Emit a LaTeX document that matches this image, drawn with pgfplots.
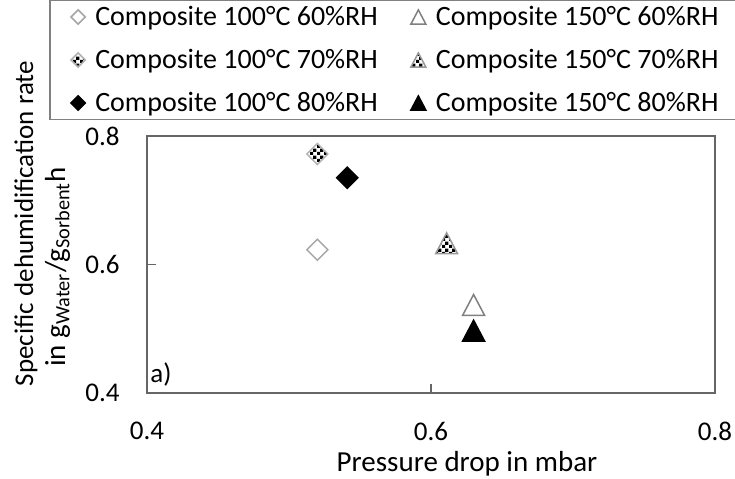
\documentclass[border=0pt]{standalone}
\usepackage{pgfplots}
\pgfplotsset{compat=1.18}
\usepackage{fontspec}
\setmainfont{Carlito}
\usetikzlibrary{patterns}

% fine checkerboard used by the 70%RH markers
\pgfdeclarepatternformonly{chk}{\pgfpointorigin}{\pgfqpoint{3.3bp}{3.3bp}}{\pgfqpoint{3.3bp}{3.3bp}}{%
  \pgfpathrectangle{\pgfpointorigin}{\pgfqpoint{1.65bp}{1.65bp}}%
  \pgfpathrectangle{\pgfqpoint{1.65bp}{1.65bp}}{\pgfqpoint{1.65bp}{1.65bp}}%
  \pgfusepath{fill}}

% marker outlines: diamond = square on its tip, triangle centred on its box
\def\dpath{\pgfpathmoveto{\pgfqpoint{0pt}{\pgfplotmarksize}}%
  \pgfpathlineto{\pgfqpoint{\pgfplotmarksize}{0pt}}%
  \pgfpathlineto{\pgfqpoint{0pt}{-\pgfplotmarksize}}%
  \pgfpathlineto{\pgfqpoint{-\pgfplotmarksize}{0pt}}%
  \pgfpathclose}
\def\tpath{\pgfpathmoveto{\pgfqpoint{0pt}{.95\pgfplotmarksize}}%
  \pgfpathlineto{\pgfqpoint{\pgfplotmarksize}{-.95\pgfplotmarksize}}%
  \pgfpathlineto{\pgfqpoint{-\pgfplotmarksize}{-.95\pgfplotmarksize}}%
  \pgfpathclose}
\pgfdeclareplotmark{dia}{\dpath\pgfusepathqfillstroke}
\pgfdeclareplotmark{tri}{\tpath\pgfusepathqfillstroke}
\pgfdeclareplotmark{chkdia}{%
  \begin{pgfscope}\pgfsetfillcolor{white}\dpath\pgfusepathqfill
  \pgfsetfillpattern{chk}{black}\dpath\pgfusepathqfill\end{pgfscope}%
  \dpath\pgfusepathqstroke}
\pgfdeclareplotmark{chktri}{%
  \begin{pgfscope}\pgfsetfillcolor{white}\tpath\pgfusepathqfill
  \pgfsetfillpattern{chk}{black}\tpath\pgfusepathqfill\end{pgfscope}%
  \tpath\pgfusepathqstroke}

\begin{document}
\begin{tikzpicture}[font=\fontsize{13.5bp}{16bp}\selectfont]
\path[use as bounding box] (0,0) rectangle (367.5bp,239.5bp);
\begin{axis}[
  pt/.style={only marks, line width=0.75bp,
    legend image code/.code={\draw[##1, every mark/.append style={scale=0.68}] plot coordinates {(0bp,0bp)};}},
  scale only axis, width=284bp, height=128.5bp,
  at={(73.5bp,43bp)}, anchor=south west,
  xmin=0.4, xmax=0.8, ymin=0.4, ymax=0.8,
  xtick={0.4,0.6,0.8}, ytick={0.4,0.6,0.8},
  tick align=inside, tick pos=left, major tick length=4.5bp,
  axis line style={draw=black!60, line width=0.75bp},
  tick style={draw=black!60, line width=0.75bp},
  /pgf/number format/assume math mode=true,
  xticklabel style={inner sep=0pt, anchor=north, yshift=-14.5bp},
  yticklabel style={inner sep=0pt, anchor=east, xshift=-13.5bp},
  clip=false,
  legend columns=2, legend cell align=left,
  legend style={at={(axis description cs:-0.1708,1.5272)}, anchor=north west,
    draw=black!50, line width=0.75bp, inner xsep=10.5bp, inner ysep=2bp,
    outer sep=0pt, row sep=9bp,
    nodes={inner sep=0pt, text height=10.5bp, text depth=2bp,
      font=\fontsize{14bp}{17bp}\selectfont},
    /tikz/every odd column/.append style={column sep=5bp},
    /tikz/every even column/.append style={column sep=16.5bp}},
]
\addplot[pt, mark=dia, mark size=5.25bp, mark options={draw=black!35, fill=white}]
  coordinates {(0.520,0.623)};
\addlegendentry{Composite 100°C 60\%RH}
\addplot[pt, mark=tri, mark size=5.5bp, mark options={draw=black!50, fill=white}]
  coordinates {(0.630,0.537)};
\addlegendentry{Composite 150°C 60\%RH}
\addplot[pt, mark=chkdia, mark size=5.25bp, mark options={draw=black!30}]
  coordinates {(0.520,0.772)};
\addlegendentry{Composite 100°C 70\%RH}
\addplot[pt, mark=chktri, mark size=5.5bp, mark options={draw=black!40}]
  coordinates {(0.611,0.633)};
\addlegendentry{Composite 150°C 70\%RH}
\addplot[pt, mark=dia, mark size=5.25bp, mark options={draw=black, fill=black}]
  coordinates {(0.541,0.735)};
\addlegendentry{Composite 100°C 80\%RH}
\addplot[pt, mark=tri, mark size=5.5bp, mark options={draw=black, fill=black}]
  coordinates {(0.630,0.497)};
\addlegendentry{Composite 150°C 80\%RH}
\end{axis}
\node[anchor=base, inner sep=0pt, font=\fontsize{14.5bp}{17bp}\selectfont] at (233.5bp,4bp) {Pressure drop in mbar};
\node[rotate=90, anchor=base, inner sep=0pt] at (16.5bp,127.75bp) {Specific dehumidification rate};
\node[rotate=90, anchor=base, inner sep=0pt, font=\fontsize{14.5bp}{17bp}\selectfont] at (32.5bp,106bp) {in g\textsubscript{Water}/g\textsubscript{Sorbent}h};
\node[anchor=base west, inner sep=0pt] at (75bp,48bp) {a)};
\end{tikzpicture}
\end{document}
